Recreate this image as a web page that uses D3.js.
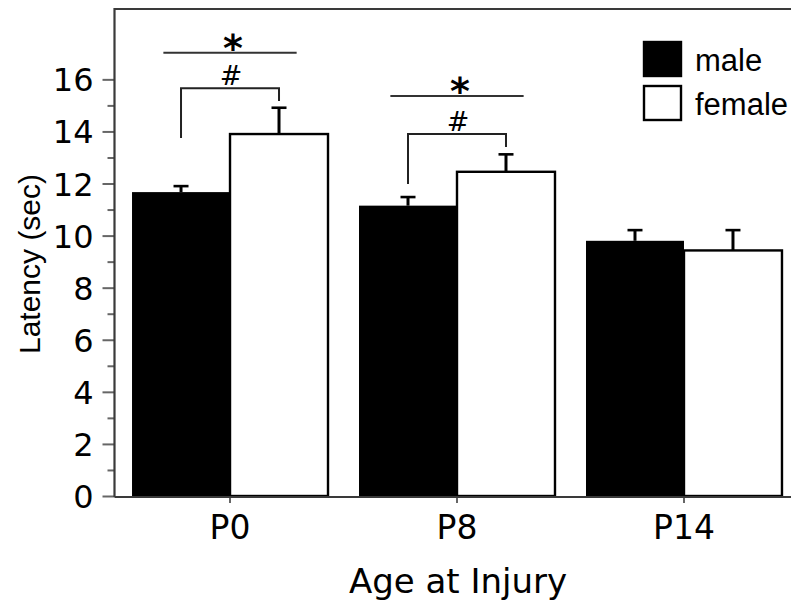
<!DOCTYPE html>
<html>
<head>
<meta charset="utf-8">
<script src="https://cdn.jsdelivr.net/npm/d3@7/dist/d3.min.js"></script>
<style>
  html, body { margin: 0; padding: 0; background: #fff; }
  svg { display: block; }
</style>
</head>
<body>
<svg id="chart" width="791" height="602"></svg>
<script>
// ---- data ----
const categories = ["P0", "P8", "P14"];
const series = ["male", "female"];
const maleValues = [11.67, 11.15, 9.80];
const maleErrors = [0.23, 0.33, 0.41];
const femaleValues = [13.90, 12.45, 9.43];
const femaleErrors = [1.01, 0.67, 0.78];
const yTickValues = [0, 2, 4, 6, 8, 10, 12, 14, 16];
const yMinorTickValues = [1, 3, 5, 7, 9, 11, 13, 15];
// significance annotations (value levels in seconds)
const sigGroups = ["P0", "P8"];
const starLineLevels = [17.02, 15.36];
const bracketLevels = [15.66, 13.90];
const bracketLeftEnds = [13.75, 11.98];
const bracketRightEnds = [15.17, 13.40];

const svg = d3.select("#chart");

const x = d3.scaleBand().domain(categories).range([115, 799])
  .paddingInner(0.1366).paddingOuter(0.075);
const xs = d3.scaleBand().domain(series).range([0, x.bandwidth()]);
const y = d3.scaleLinear().domain([0, 18.74]).range([496, 8]);

const axisColor = "#3a3a3a";

// frame: top border
svg.append("line").attr("x1", 115).attr("x2", 791)
  .attr("y1", y(18.74) + 1).attr("y2", y(18.74) + 1)
  .attr("stroke", axisColor).attr("stroke-width", 2.2);

// bars
const rows = categories.map((c, i) => ({
  cat: c,
  vals: [
    { s: "male", v: maleValues[i], e: maleErrors[i] },
    { s: "female", v: femaleValues[i], e: femaleErrors[i] }
  ]
}));

const g = svg.append("g");
const groups = g.selectAll("g.grp").data(rows).join("g")
  .attr("transform", d => `translate(${x(d.cat)},0)`);

// error bars (upward only)
groups.selectAll("line.err").data(d => d.vals).join("line")
  .attr("x1", d => xs(d.s) + xs.bandwidth() / 2)
  .attr("x2", d => xs(d.s) + xs.bandwidth() / 2)
  .attr("y1", d => y(d.v)).attr("y2", d => y(d.v + d.e))
  .attr("stroke", "#000").attr("stroke-width", 3);
groups.selectAll("line.cap").data(d => d.vals).join("line")
  .attr("x1", d => xs(d.s) + xs.bandwidth() / 2 - 7.5)
  .attr("x2", d => xs(d.s) + xs.bandwidth() / 2 + 7.5)
  .attr("y1", d => y(d.v + d.e)).attr("y2", d => y(d.v + d.e))
  .attr("stroke", "#000").attr("stroke-width", 2.6);

groups.selectAll("rect").data(d => d.vals).join("rect")
  .attr("x", d => xs(d.s))
  .attr("width", xs.bandwidth())
  .attr("y", d => y(d.v))
  .attr("height", d => y(0) - y(d.v))
  .attr("fill", d => d.s === "male" ? "#000" : "#fff")
  .attr("stroke", d => d.s === "male" ? "none" : "#000")
  .attr("stroke-width", 2.4);

// y axis
const yAxis = d3.axisLeft(y).tickValues(yTickValues).tickSize(12).tickPadding(9)
  .tickFormat(d3.format("d"));
const yg = svg.append("g").attr("transform", "translate(114.5,0)").call(yAxis);
yg.select(".domain").remove();
yg.selectAll(".tick line").attr("stroke", "#666").attr("stroke-width", 2);
yg.selectAll(".tick text").attr("font-family", "DejaVu Sans")
  .attr("font-size", 32).attr("fill", "#000").attr("dy", "0.36em");
const ym = d3.axisLeft(y).tickValues(yMinorTickValues).tickSize(7).tickFormat("");
const ymg = svg.append("g").attr("transform", "translate(114.5,0)").call(ym);
ymg.select(".domain").remove();
ymg.selectAll(".tick line").attr("stroke", "#666").attr("stroke-width", 2);

svg.append("line").attr("x1", 114.5).attr("x2", 114.5)
  .attr("y1", y(18.74)).attr("y2", y(0) + 1)
  .attr("stroke", axisColor).attr("stroke-width", 2.2);

// x axis
const xAxis = d3.axisBottom(x).tickSize(6).tickPadding(13);
const xg = svg.append("g").attr("transform", `translate(0,${y(0) + 1})`).call(xAxis);
xg.select(".domain").remove();
xg.selectAll(".tick line").attr("stroke", "#666").attr("stroke-width", 2);
xg.selectAll(".tick text").attr("font-family", "DejaVu Sans")
  .attr("font-size", 33).attr("fill", "#000");
svg.append("line").attr("x1", 114.5).attr("x2", 791)
  .attr("y1", y(0) + 1).attr("y2", y(0) + 1)
  .attr("stroke", axisColor).attr("stroke-width", 2.2);

// axis titles
svg.append("text").attr("x", 458).attr("y", 593)
  .attr("text-anchor", "middle").attr("font-family", "DejaVu Sans")
  .attr("font-size", 34).attr("fill", "#000").text("Age at Injury");
svg.append("text").attr("transform", "translate(40,264) rotate(-90)")
  .attr("text-anchor", "middle").attr("font-family", "Liberation Sans")
  .attr("font-size", 30).attr("fill", "#000").text("Latency (sec)");

// significance annotations
sigGroups.forEach((cat, i) => {
  const x0 = x(cat);
  const bw = x.bandwidth();
  const cm = x0 + xs("male") + xs.bandwidth() / 2;
  const cf = x0 + xs("female") + xs.bandwidth() / 2;
  const cc = x0 + bw / 2;
  svg.append("line")
    .attr("x1", x0 + bw * 0.16).attr("x2", x0 + bw * 0.84)
    .attr("y1", y(starLineLevels[i])).attr("y2", y(starLineLevels[i]))
    .attr("stroke", "#333").attr("stroke-width", 2);
  svg.append("text").attr("x", cc + 3).attr("y", y(starLineLevels[i]) + 8)
    .attr("text-anchor", "middle").attr("font-family", "DejaVu Sans")
    .attr("font-weight", "bold").attr("font-size", 38).attr("fill", "#000").text("*");
  svg.append("path")
    .attr("d", `M${cm},${y(bracketLeftEnds[i])}V${y(bracketLevels[i])}H${cf}V${y(bracketRightEnds[i])}`)
    .attr("fill", "none").attr("stroke", "#222").attr("stroke-width", 2);
  svg.append("text").attr("x", cc + 1).attr("y", y(bracketLevels[i]) - 3)
    .attr("text-anchor", "middle").attr("font-family", "DejaVu Sans")
    .attr("font-size", 27).attr("fill", "#000").text("#");
});

// legend
const legend = svg.append("g").attr("transform", "translate(643,41)");
const legItems = legend.selectAll("g").data(series).join("g")
  .attr("transform", (d, i) => `translate(0,${i * 44})`);
legItems.append("rect")
  .attr("x", 1).attr("y", 1).attr("width", 37).attr("height", 34)
  .attr("fill", d => d === "male" ? "#000" : "#fff")
  .attr("stroke", "#000").attr("stroke-width", 2.4);
legItems.append("text").attr("x", 52).attr("y", 30)
  .attr("font-family", "Liberation Sans").attr("font-size", 31).attr("fill", "#000")
  .text(d => d);
</script>
</body>
</html>
